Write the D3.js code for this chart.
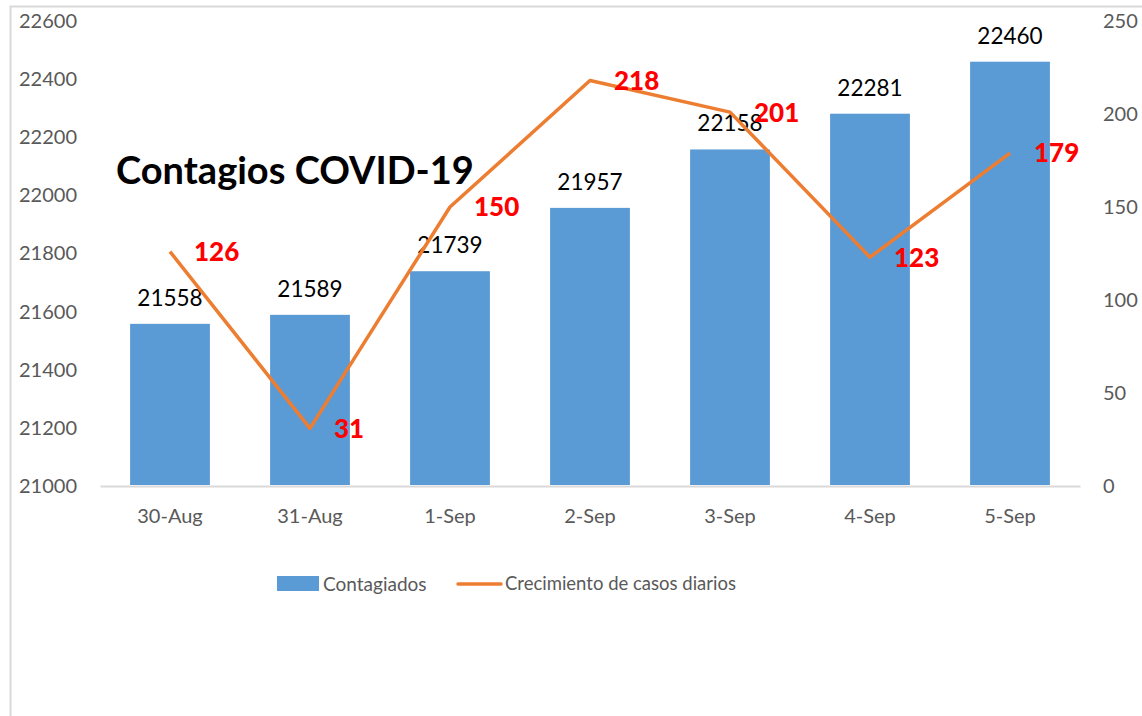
<!DOCTYPE html>
<html>
<head>
<meta charset="utf-8">
<script src="https://cdn.jsdelivr.net/npm/d3@7"></script>
<style>
  body { margin: 0; background: #fff; }
  text { font-family: Lato, "Open Sans", sans-serif; }
</style>
</head>
<body>
<div id="chart-container"></div>
<script>
const categories = ["30-Aug", "31-Aug", "1-Sep", "2-Sep", "3-Sep", "4-Sep", "5-Sep"];
const contagiados = [21558, 21589, 21739, 21957, 22158, 22281, 22460];
const crecimiento = [126, 31, 150, 218, 201, 123, 179];
const leftTicks = [21000, 21200, 21400, 21600, 21800, 22000, 22200, 22400, 22600];
const rightTicks = [0, 50, 100, 150, 200, 250];

const W = 1142, H = 716;
const plot = { left: 100, right: 1080, top: 21, bottom: 486 };

const svg = d3.select("#chart-container")
    .append("svg")
    .attr("width", W)
    .attr("height", H);

// chart frame (only the top and left edges are visible)
svg.append("path")
    .attr("d", `M10.5,${H} V6.5 H${W}`)
    .attr("fill", "none")
    .attr("stroke", "#d9d9d9")
    .attr("stroke-width", 2);

const x = d3.scaleBand()
    .domain(categories)
    .range([plot.left, plot.right])
    .paddingInner(0.43)
    .paddingOuter(0.215);

const yLeft = d3.scaleLinear()
    .domain([21000, 22600])
    .range([plot.bottom, plot.top]);

const yRight = d3.scaleLinear()
    .domain([0, 250])
    .range([plot.bottom, plot.top]);

// Left axis
const axisL = svg.append("g")
    .attr("transform", `translate(${plot.left - 23}, 0)`)
    .call(d3.axisLeft(yLeft).tickValues(leftTicks).tickSize(0).tickPadding(0).tickFormat(d3.format("d")));
axisL.select(".domain").remove();
axisL.selectAll("text").attr("fill", "#595959").style("font-size", "20px").style("font-family", "Lato, sans-serif");

// Right axis
const axisR = svg.append("g")
    .attr("transform", `translate(1103, 0)`)
    .call(d3.axisRight(yRight).tickValues(rightTicks).tickSize(0).tickPadding(0));
axisR.select(".domain").remove();
axisR.selectAll("text").attr("fill", "#595959").style("font-size", "20px").style("font-family", "Lato, sans-serif");

// Bottom axis (baseline + labels)
const axisB = svg.append("g")
    .attr("transform", `translate(0, ${plot.bottom})`)
    .call(d3.axisBottom(x).tickSize(0).tickPadding(23));
axisB.select(".domain").attr("stroke", "#d9d9d9").attr("stroke-width", 2);
axisB.selectAll("text").attr("fill", "#595959").style("font-size", "20px").style("font-family", "Lato, sans-serif");

// Bars
svg.selectAll(".bar")
    .data(contagiados)
    .enter()
    .append("rect")
    .attr("class", "bar")
    .attr("x", (d, i) => x(categories[i]))
    .attr("y", d => yLeft(d))
    .attr("width", x.bandwidth())
    .attr("height", d => plot.bottom - 1 - yLeft(d))
    .attr("fill", "#5b9bd5");

// Bar labels
svg.selectAll(".bar-label")
    .data(contagiados)
    .enter()
    .append("text")
    .attr("class", "bar-label")
    .attr("x", (d, i) => x(categories[i]) + x.bandwidth() / 2)
    .attr("y", d => yLeft(d) - 26)
    .attr("dy", "0.35em")
    .attr("text-anchor", "middle")
    .style("font-size", "22.5px")
    .attr("fill", "#000")
    .text(d => d);

// Line
const line = d3.line()
    .x((d, i) => x(categories[i]) + x.bandwidth() / 2)
    .y(d => yRight(d));

svg.append("path")
    .datum(crecimiento)
    .attr("d", line)
    .attr("fill", "none")
    .attr("stroke", "#ed7d31")
    .attr("stroke-width", 3.5)
    .attr("stroke-linejoin", "round");

// Line labels
svg.selectAll(".line-label")
    .data(crecimiento)
    .enter()
    .append("text")
    .attr("class", "line-label")
    .attr("x", (d, i) => x(categories[i]) + x.bandwidth() / 2 + 24)
    .attr("y", d => yRight(d))
    .attr("dy", "0.36em")
    .style("font-size", "26px")
    .style("font-weight", "900")
    .attr("fill", "#ff0000")
    .text(d => d);

// Title
svg.append("text")
    .attr("x", 116)
    .attr("y", 184)
    .style("font-size", "38px")
    .style("font-weight", "bold")
    .attr("fill", "#000")
    .text("Contagios COVID-19");

// Legend
const legend = svg.append("g").attr("transform", "translate(0, 584)");
legend.append("rect")
    .attr("x", 277).attr("y", -8)
    .attr("width", 42).attr("height", 15)
    .attr("fill", "#5b9bd5");
legend.append("text")
    .attr("x", 323).attr("y", 0).attr("dy", "0.35em")
    .attr("fill", "#595959").style("font-size", "19px")
    .text("Contagiados");
legend.append("line")
    .attr("x1", 458).attr("x2", 501)
    .attr("y1", 0).attr("y2", 0)
    .attr("stroke", "#ed7d31").attr("stroke-width", 3.5)
    .attr("stroke-linecap", "round");
legend.append("text")
    .attr("x", 505).attr("y", 0).attr("dy", "0.35em")
    .attr("fill", "#595959").style("font-size", "18.5px")
    .text("Crecimiento de casos diarios");
</script>
</body>
</html>
